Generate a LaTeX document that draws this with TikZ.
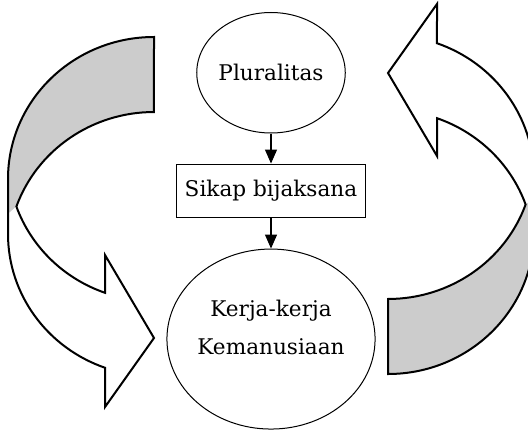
\documentclass[tikz,border=0pt]{standalone}
\usepackage{fontspec}
\setmainfont{DejaVu Serif}
\usetikzlibrary{arrows.meta,positioning,shapes.geometric}

\begin{document}
\begin{tikzpicture}[x=0.5pt,y=0.5pt,>={Triangle[length=7pt,width=6pt]},
    node distance=58.9pt,
    every node/.style={font=\fontsize{10.8}{19}\selectfont},
    bubble/.style={ellipse,draw,line width=0.5pt,inner sep=0pt},
    plainbox/.style={rectangle,draw,line width=0.5pt,minimum width=94.5pt,
                     minimum height=26.5pt,inner sep=0pt},
    flow/.style={->,line width=0.6pt},
    band/.style={line width=1pt,line join=miter}]

  \useasboundingbox (0,0) rectangle (528,429);

  % the two curved arrows, the right one is the left one turned round
  \foreach \ang in {0,180}{
    \begin{scope}[rotate around={\ang:(271,223.5)}]
      \fill[gray!40] (154,392) arc[start angle=90,end angle=180,x radius=146,y radius=142]
        -- (8,215) -- (16.4,222.5)
        arc[start angle=160.46,end angle=90,x radius=146,y radius=142] -- cycle;
      \fill[white] (8,215) -- (8,195)
        arc[start angle=180,end angle=250.4,x radius=146,y radius=142]
        -- (105,22) -- (154,91) -- (105,174) -- (105,136.2)
        arc[start angle=250.4,end angle=199.54,x radius=146,y radius=142] -- cycle;
      \draw[band] (154,392) arc[start angle=90,end angle=180,x radius=146,y radius=142]
        -- (8,195) arc[start angle=180,end angle=250.4,x radius=146,y radius=142]
        -- (105,22) -- (154,91) -- (105,174) -- (105,136.2)
        arc[start angle=250.4,end angle=199.54,x radius=146,y radius=142]
        arc[start angle=160.46,end angle=90,x radius=146,y radius=142] -- cycle;
    \end{scope}
  }

  \node[bubble,minimum width=70.5pt,minimum height=60.25pt] (plural) at (271,356.25) {Pluralitas};
  \node[plainbox] (sikap) [below of=plural] {Sikap bijaksana};
  \node[bubble,minimum width=97pt,minimum height=90pt,align=center,text depth=12pt,
        node distance=74.25pt] (kerja) [below of=sikap] {Kerja-kerja\\Kemanusiaan};

  \path (plural) edge[flow] (sikap)
        (sikap)  edge[flow] (kerja);
\end{tikzpicture}
\end{document}
